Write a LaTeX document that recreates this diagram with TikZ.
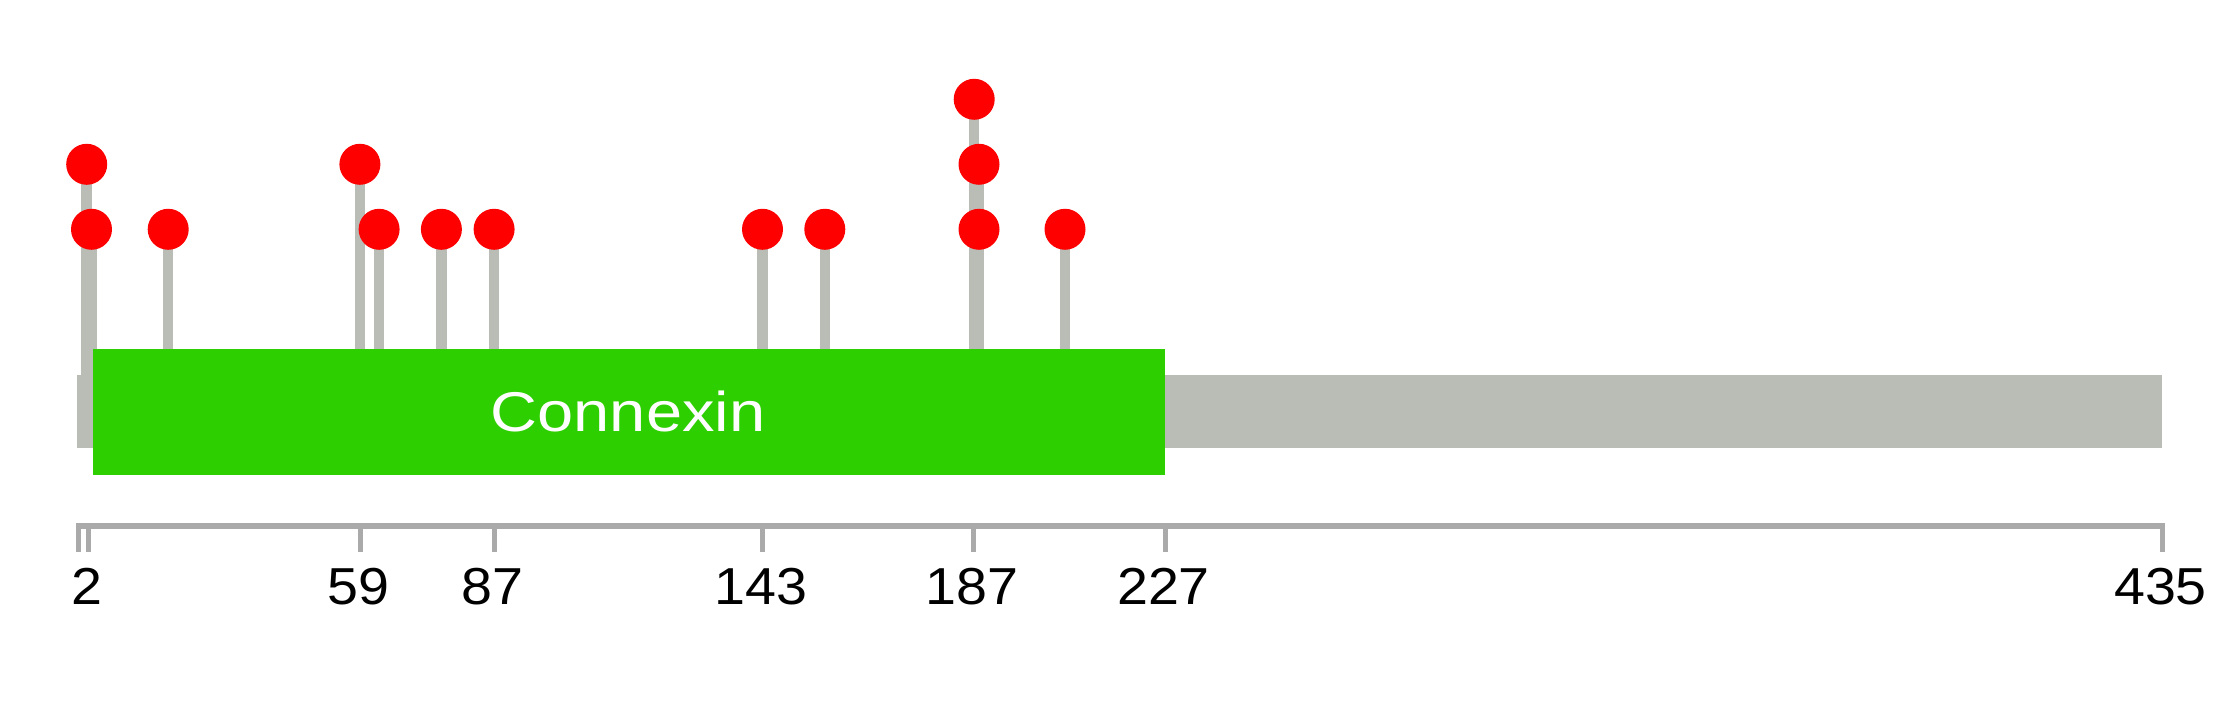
\documentclass[tikz,border=0pt]{standalone}
\usepackage{fontspec}
\setmainfont{Liberation Sans}
\pgfdeclarelayer{background}
\pgfsetlayers{background,main}
\definecolor{bbgray}{RGB}{186,189,182}
\definecolor{axisgray}{RGB}{170,170,170}
\definecolor{domgreen}{RGB}{46,207,0}
\definecolor{pinred}{RGB}{255,0,0}
\tikzset{
  backbonebox/.style={fill=bbgray, draw=none, inner sep=0pt, anchor=north west},
  domainbox/.style={fill=domgreen, draw=none, inner sep=0pt, anchor=north west},
  pin/.style={circle, fill=pinred, draw=none, minimum size=41pt, inner sep=0pt},
  stem/.style={draw=bbgray, line width=10.5pt},
  axisline/.style={draw=axisgray, line width=6pt},
  tickmark/.style={draw=axisgray, line width=5pt},
  ticklabel/.style={anchor=base, inner sep=0pt, font=\fontsize{52}{62}\selectfont, xscale=1.07},
  domlabel/.style={anchor=base, inner sep=0pt, text=white, font=\fontsize{56}{67}\selectfont, xscale=1.16}
}
\begin{document}
\begin{tikzpicture}[x=1pt, y=-1pt]
\useasboundingbox (0,0) rectangle (2239,708);
% backbone and domain
\node[backbonebox, minimum width=2085pt, minimum height=73pt] (backbone) at (77,375) {};
\node[domainbox, minimum width=1072pt, minimum height=126pt] (connexin) at (93,349) {};
\node[domlabel] (connexinlabel) at (628,431.7) {Connexin};
% lollipop heads
\node[pin] (p2)   at (86.7,164.3) {};
\node[pin] (p3)   at (91.5,229.3) {};
\node[pin] (p19)  at (168.2,229.3) {};
\node[pin] (p59)  at (359.9,164.3) {};
\node[pin] (p63)  at (379.1,229.3) {};
\node[pin] (p76)  at (441.4,229.3) {};
\node[pin] (p87)  at (494.1,229.3) {};
\node[pin] (p143) at (762.5,229.3) {};
\node[pin] (p156) at (824.8,229.3) {};
\node[pin] (p187) at (974.2,99.3) {};
\node[pin] (p188b) at (979,164.3) {};
\node[pin] (p188a) at (979,229.3) {};
\node[pin] (p206) at (1065,229.3) {};
% stems
\begin{pgfonlayer}{background}
\foreach \p in {p2,p3,p19,p59,p63,p76,p87,p143,p156,p187,p188b,p206}
  \draw[stem] (\p.center) -- (\p.center |- backbone.north);
\end{pgfonlayer}
% axis
\coordinate (axL) at (76,526.3);
\coordinate (axR) at (2164.5,526.3);
\draw[axisline] (axL) -- (axR);
\foreach \x/\lab [count=\i] in {78.5/{}, 88/2, 360/59, 494/87, 762.5/143, 973.6/187, 1165/227, 2162/435}{
  \coordinate (tick\i) at (\x,523.5);
  \draw[tickmark] (tick\i) -- ++(0,28.8);
  \node[ticklabel] (ticklab\i) at (\x-1.5,604.5) {\lab};
}
\end{tikzpicture}
\end{document}
